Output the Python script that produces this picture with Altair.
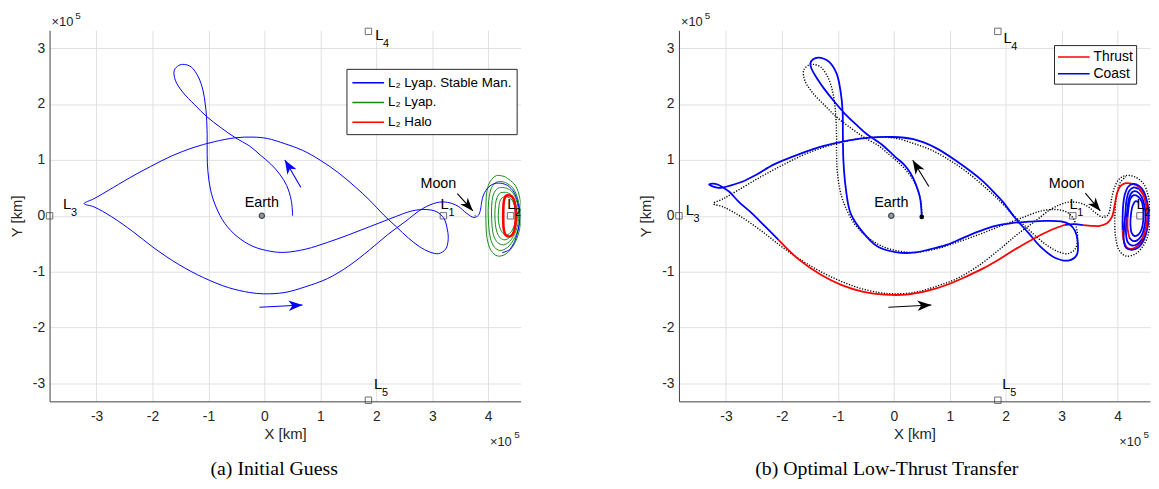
import math
import altair as alt
import pandas as pd

# ---------------- axis ranges / ticks (units of 1e5 km) ----------------
XDOM = [-3.84, 4.58]
YDOM = [-3.32, 3.32]
XTICKS = [-3, -2, -1, 0, 1, 2, 3, 4]
YTICKS = [-3, -2, -1, 0, 1, 2, 3]
W, H = 476, 375

# ---------------- initial guess (L2 Lyapunov stable manifold) ----------------
GUESS = [(0.505, 0.0), (0.48, 0.277), (0.398, 0.542), (0.272, 0.748), (0.114, 0.925),
         (-0.076, 1.09), (-0.265, 1.249), (-0.518, 1.396), (-0.771, 1.572), (-1.036, 1.779),
         (-1.244, 1.985), (-1.466, 2.22), (-1.592, 2.426), (-1.611, 2.603), (-1.529, 2.691),
         (-1.434, 2.709), (-1.308, 2.662), (-1.181, 2.485), (-1.099, 2.25), (-1.055, 1.985),
         (-1.036, 1.779), (-1.023, 1.455), (-1.023, 1.101), (-1.011, 0.807), (-0.96, 0.453),
         (-0.865, 0.159), (-0.708, -0.135), (-0.486, -0.371), (-0.202, -0.548), (0.114, -0.636),
         (0.366, -0.654), (0.745, -0.595), (1.124, -0.477), (1.503, -0.342), (1.883, -0.194),
         (2.262, -0.047), (2.641, 0.088), (2.893, 0.112), (3.083, 0.071), (3.209, -0.047),
         (3.272, -0.253), (3.285, -0.43), (3.241, -0.595), (3.114, -0.677), (2.956, -0.648),
         (2.767, -0.548), (2.577, -0.4), (2.356, -0.194), (2.135, 0.012), (1.883, 0.277),
         (1.63, 0.512), (1.314, 0.777), (0.998, 0.995), (0.682, 1.172), (0.366, 1.29),
         (0.051, 1.384), (-0.202, 1.408), (-0.518, 1.396), (-0.897, 1.325), (-1.276, 1.219),
         (-1.655, 1.072), (-2.034, 0.883), (-2.413, 0.677), (-2.792, 0.453), (-3.045, 0.306),
         (-3.222, 0.218), (-3.045, 0.159), (-2.729, -0.018), (-2.35, -0.283), (-1.971, -0.577),
         (-1.529, -0.872), (-1.087, -1.107), (-0.644, -1.284), (-0.265, -1.372), (-0.013, -1.396),
         (0.366, -1.372), (0.745, -1.266), (1.124, -1.125), (1.503, -0.901), (1.883, -0.607),
         (2.198, -0.342), (2.514, -0.106), (2.83, 0.13), (3.083, 0.236), (3.272, 0.241),
         (3.462, 0.171), (3.62, 0.041), (3.746, -0.029), (3.828, 0.012), (3.872, 0.159)]
MAN_TAIL = [(3.872, 0.159), (3.904, 0.336), (3.98, 0.483), (4.094, 0.571), (4.22, 0.583),
            (4.346, 0.542), (4.46, 0.424), (4.536, 0.218), (4.567, -0.018), (4.536, -0.253),
            (4.473, -0.459), (4.378, -0.607), (4.25, -0.66)]
DOT_TAIL = [(3.872, 0.159), (3.90, 0.34), (3.95, 0.52), (4.03, 0.66), (4.15, 0.72), (4.30, 0.70),
            (4.46, 0.58), (4.55, 0.35), (4.58, 0.05), (4.56, -0.28), (4.47, -0.52), (4.32, -0.68),
            (4.15, -0.72), (4.03, -0.62), (3.97, -0.42), (3.95, -0.15), (3.96, 0.15), (3.99, 0.40),
            (4.05, 0.60), (4.15, 0.70)]

# ---------------- L2 Lyapunov orbits and halo ----------------
LYAP = [
    [(4.30, 0.70), (4.15, 0.72), (4.04, 0.62), (3.98, 0.45), (3.96, 0.2), (3.96, -0.1), (3.98, -0.4),
     (4.05, -0.62), (4.17, -0.72), (4.32, -0.68), (4.47, -0.5), (4.56, -0.25), (4.59, 0.0),
     (4.57, 0.3), (4.48, 0.55), (4.30, 0.70)],
    [(4.30, 0.60), (4.17, 0.61), (4.07, 0.52), (4.02, 0.35), (4.00, 0.1), (4.01, -0.18), (4.04, -0.40),
     (4.11, -0.56), (4.21, -0.62), (4.34, -0.57), (4.47, -0.4), (4.55, -0.18), (4.57, 0.05),
     (4.53, 0.3), (4.44, 0.5), (4.30, 0.60)],
    [(4.31, 0.50), (4.19, 0.50), (4.11, 0.42), (4.07, 0.27), (4.06, 0.05), (4.07, -0.18), (4.10, -0.36),
     (4.17, -0.48), (4.27, -0.52), (4.38, -0.46), (4.48, -0.31), (4.54, -0.1), (4.54, 0.12),
     (4.49, 0.32), (4.41, 0.45), (4.31, 0.50)],
    [(4.32, 0.42), (4.22, 0.41), (4.16, 0.33), (4.13, 0.2), (4.12, 0.02), (4.13, -0.16), (4.16, -0.30),
     (4.22, -0.40), (4.30, -0.43), (4.39, -0.38), (4.47, -0.25), (4.52, -0.07), (4.51, 0.12),
     (4.47, 0.28), (4.41, 0.38), (4.32, 0.42)],
    [(4.33, 0.34), (4.26, 0.33), (4.21, 0.26), (4.19, 0.14), (4.18, 0.0), (4.19, -0.13), (4.22, -0.24),
     (4.27, -0.32), (4.33, -0.34), (4.40, -0.30), (4.46, -0.19), (4.50, -0.04), (4.49, 0.11),
     (4.45, 0.24), (4.40, 0.31), (4.33, 0.34)],
]
HALO = [(4.37, 0.37), (4.31, 0.35), (4.28, 0.25), (4.27, 0.1), (4.27, -0.1), (4.28, -0.25),
        (4.31, -0.34), (4.37, -0.37), (4.43, -0.34), (4.47, -0.25), (4.49, -0.1), (4.49, 0.1),
        (4.47, 0.25), (4.43, 0.34), (4.37, 0.37)]

# ---------------- optimal low-thrust transfer ----------------
SEG_MODE = ["Coast", "Thrust", "Coast", "Thrust", "Coast", "Thrust", "Coast", "Thrust", "Coast"]
SEG_PTS = [
    [(0.50, -0.02), (0.49, 0.15), (0.47, 0.32), (0.40, 0.55), (0.30, 0.76), (0.18, 0.92), (0.03, 1.05),
     (-0.22, 1.28), (-0.48, 1.46), (-0.67, 1.63), (-0.86, 1.81), (-1.06, 2.04), (-1.25, 2.28),
     (-1.38, 2.47), (-1.47, 2.63), (-1.49, 2.73), (-1.44, 2.80), (-1.35, 2.83), (-1.25, 2.81),
     (-1.15, 2.75), (-1.02, 2.54), (-0.95, 2.22), (-0.915, 1.87), (-0.91, 1.46), (-0.90, 0.98),
     (-0.86, 0.51), (-0.77, 0.04), (-0.54, -0.31), (-0.29, -0.55), (0.03, -0.65), (0.35, -0.66),
     (0.64, -0.60), (0.94, -0.52), (1.23, -0.40), (1.52, -0.28), (1.82, -0.18), (2.11, -0.13),
     (2.41, -0.105), (2.70, -0.09), (2.99, -0.10), (3.14, -0.15), (3.24, -0.27), (3.29, -0.48),
     (3.27, -0.70), (3.12, -0.80), (2.88, -0.75), (2.64, -0.57), (2.41, -0.31), (2.17, -0.04),
     (1.95, 0.25), (1.82, 0.39), (1.58, 0.63), (1.12, 0.98), (0.74, 1.22), (0.35, 1.37),
     (-0.03, 1.41), (-0.42, 1.40), (-0.80, 1.35), (-1.25, 1.25), (-1.70, 1.10), (-2.14, 0.92),
     (-2.45, 0.74), (-2.71, 0.61), (-3.00, 0.52), (-3.09, 0.50), (-3.18, 0.51), (-3.27, 0.54),
     (-3.30, 0.56), (-3.24, 0.575), (-3.15, 0.56), (-3.06, 0.51), (-2.94, 0.43), (-2.77, 0.25),
     (-2.53, 0.04), (-2.30, -0.19), (-2.06, -0.43)],
    [(-2.06, -0.43), (-1.70, -0.78), (-1.31, -1.05), (-0.93, -1.24), (-0.54, -1.36), (-0.16, -1.41),
     (0.22, -1.41), (0.61, -1.34), (0.99, -1.22), (1.33, -1.07), (1.58, -0.95), (1.88, -0.78),
     (2.17, -0.60), (2.50, -0.41), (2.82, -0.25), (3.06, -0.16)],
    [(3.06, -0.16), (3.22, -0.15), (3.38, -0.165)],
    [(3.38, -0.165), (3.55, -0.18), (3.68, -0.18), (3.81, -0.135), (3.90, -0.02), (3.95, 0.20),
     (3.99, 0.40), (4.05, 0.53), (4.13, 0.58), (4.22, 0.58), (4.33, 0.55), (4.44, 0.45), (4.52, 0.27),
     (4.56, 0.05), (4.54, -0.18), (4.48, -0.38), (4.38, -0.52), (4.26, -0.59), (4.16, -0.56),
     (4.11, -0.44), (4.09, -0.26)],
    [(4.09, -0.26), (4.09, -0.05), (4.10, 0.18), (4.13, 0.38), (4.19, 0.52), (4.28, 0.57), (4.38, 0.54),
     (4.47, 0.43), (4.53, 0.23), (4.55, 0.0), (4.53, -0.23), (4.47, -0.43), (4.37, -0.57),
     (4.25, -0.61), (4.15, -0.57), (4.11, -0.43), (4.12, -0.2), (4.14, 0.05), (4.16, 0.28),
     (4.21, 0.45), (4.29, 0.51), (4.38, 0.48)],
    [(4.38, 0.48), (4.46, 0.37), (4.51, 0.19), (4.53, -0.03), (4.50, -0.24), (4.44, -0.41)],
    [(4.44, -0.41), (4.35, -0.51), (4.25, -0.53), (4.18, -0.47), (4.15, -0.31), (4.16, -0.08),
     (4.18, 0.15), (4.21, 0.33), (4.27, 0.43), (4.35, 0.43), (4.43, 0.34), (4.48, 0.18), (4.50, -0.02),
     (4.48, -0.20), (4.43, -0.35), (4.35, -0.44), (4.27, -0.45), (4.21, -0.39)],
    [(4.21, -0.39), (4.18, -0.23), (4.18, -0.02)],
    [(4.18, -0.02), (4.20, 0.17), (4.23, 0.31), (4.29, 0.37), (4.36, 0.35), (4.43, 0.26), (4.46, 0.10),
     (4.46, -0.08), (4.43, -0.24), (4.37, -0.34), (4.30, -0.36), (4.25, -0.30), (4.23, -0.15),
     (4.24, 0.03), (4.27, 0.18), (4.32, 0.26), (4.38, 0.24)],
]

# ---------------- libration points, bodies, labels ----------------
LPT_NAMES = ["1", "2", "3", "4", "5"]
LPT_X = [3.20, 4.40, -3.84, 1.86, 1.86]
LPT_Y = [0.0, 0.0, 0.0, 3.30, -3.30]
LBL_LEFT_X = [3.15, 4.34, -3.60, 1.98, 1.96]
LBL_LEFT_Y = [0.34, 0.34, 0.34, 3.36, -2.89]
LBL_RIGHT_X = [3.14, 4.34, -3.72, 1.96, 1.94]
LBL_RIGHT_Y = [0.34, 0.34, 0.22, 3.31, -2.89]
EARTH = (-0.045, 0.0)
MOON = (3.77, 0.0)
EARTH_LBL = (-0.044, 0.236)
MOON_LBL_LEFT = (3.11, 0.56)
MOON_LBL_RIGHT = (3.09, 0.56)

# arrows: (tail_x, tail_y, head_x, head_y)
ARROWS_LEFT = [(0.651, 0.512, 0.366, 1.0), (-0.088, -1.637, 0.682, -1.596)]
MOON_ARROW_LEFT = [(3.449, 0.395, 3.727, 0.088)]
ARROWS_RIGHT = [(0.627, 0.524, 0.339, 0.995), (-0.096, -1.637, 0.672, -1.596)]
MOON_ARROW_RIGHT = [(3.423, 0.406, 3.692, 0.088)]

LEFT_SERIES = ["L\u2082 Lyap. Stable Man.", "L\u2082 Lyap.", "L\u2082 Halo"]
LEFT_COLORS = ["#0000ff", "#138a13", "#ff0000"]
RIGHT_SERIES = ["Thrust", "Coast"]
RIGHT_COLORS = ["#ff0000", "#0000ff"]

FONT = "Liberation Sans"
ARROW_PATH = "M0,0L0.75,2L0,1.45L-0.75,2Z"
LEGEND_LINE = "M-1,0L3,0"


# ---------------- helpers ----------------
def pts_df(pts, **const):
    d = pd.DataFrame({"x": [p[0] for p in pts], "y": [p[1] for p in pts],
                      "i": list(range(len(pts)))})
    for k, v in const.items():
        d[k] = v
    return d


def xenc():
    return alt.X("x:Q", scale=alt.Scale(domain=XDOM, nice=False, zero=False),
                 axis=alt.Axis(values=XTICKS, labelExpr="toString(datum.value)",
                               title="X [km]", labelPadding=8, titlePadding=4))


def yenc():
    return alt.Y("y:Q", scale=alt.Scale(domain=YDOM, nice=False, zero=False),
                 axis=alt.Axis(values=YTICKS, labelExpr="toString(datum.value)",
                               title="Y [km]", labelPadding=5, titlePadding=8))


def arrow_df(arrs):
    rows = []
    for (tx, ty, hx, hy) in arrs:
        ang = math.degrees(math.atan2((hx - tx) * 56.5, (hy - ty) * 56.6)) % 360
        rows.append({"x": tx, "y": ty, "x2": hx, "y2": hy, "hx": hx, "hy": hy, "angle": ang})
    return pd.DataFrame(rows)


def arrow_layers(arrs, color, size):
    d = arrow_df(arrs)
    rule = alt.Chart(d).mark_rule(color=color, strokeWidth=1.1).encode(
        x=xenc(), y=yenc(), x2="x2:Q", y2="y2:Q")
    head = alt.Chart(d).mark_point(shape=ARROW_PATH, filled=True, opacity=1, color=color,
                                   size=size, strokeWidth=0).encode(
        x=alt.X("hx:Q", scale=alt.Scale(domain=XDOM, nice=False, zero=False)),
        y=alt.Y("hy:Q", scale=alt.Scale(domain=YDOM, nice=False, zero=False)),
        angle=alt.Angle("angle:Q", scale=None))
    return [rule, head]


def common_layers(lbl_x, lbl_y, moon_lbl):
    lp = pd.DataFrame({"x": LPT_X, "y": LPT_Y, "n": LPT_NAMES})
    ll = pd.DataFrame({"x": lbl_x, "y": lbl_y, "n": LPT_NAMES})
    squares = alt.Chart(lp).mark_point(shape="square", size=42, color="#333333",
                                       strokeWidth=1, filled=False).encode(x=xenc(), y=yenc())
    l_txt = alt.Chart(ll).mark_text(text="L", align="left", baseline="top", font=FONT,
                                    fontSize=15, color="black").encode(x=xenc(), y=yenc())
    l_sub = alt.Chart(ll).mark_text(align="left", baseline="top", font=FONT, fontSize=11,
                                    dx=8, dy=10, color="black").encode(
        x=xenc(), y=yenc(), text="n:N")
    earth = alt.Chart(pd.DataFrame({"x": [EARTH[0]], "y": [EARTH[1]]})).mark_point(
        shape="circle", size=28, filled=True, fill="#8a9bb0", stroke="#4a4a4a",
        strokeWidth=1.3, opacity=1).encode(x=xenc(), y=yenc())
    moon = alt.Chart(pd.DataFrame({"x": [MOON[0]], "y": [MOON[1]]})).mark_point(
        shape="circle", size=5, filled=True, color="#9a9a9a", opacity=1).encode(x=xenc(), y=yenc())
    names = pd.DataFrame({"x": [EARTH_LBL[0], moon_lbl[0]], "y": [EARTH_LBL[1], moon_lbl[1]],
                          "t": ["Earth", "Moon"]})
    name_txt = alt.Chart(names).mark_text(font=FONT, fontSize=14.5, color="black",
                                          baseline="middle").encode(x=xenc(), y=yenc(), text="t:N")
    corner = pd.DataFrame({"x": [XDOM[0]], "y": [YDOM[1]]})
    corner2 = pd.DataFrame({"x": [XDOM[1]], "y": [YDOM[0]]})
    e1 = alt.Chart(corner).mark_text(text="\u00d710", align="left", baseline="middle", dx=2, dy=-8,
                                     font=FONT, fontSize=13, color="#262626").encode(x=xenc(), y=yenc())
    e2 = alt.Chart(corner).mark_text(text="5", align="left", baseline="middle", dx=26, dy=-14,
                                     font=FONT, fontSize=10, color="#262626").encode(x=xenc(), y=yenc())
    e3 = alt.Chart(corner2).mark_text(text="\u00d710", align="right", baseline="middle", dx=-9, dy=41,
                                      font=FONT, fontSize=13, color="#262626").encode(x=xenc(), y=yenc())
    e4 = alt.Chart(corner2).mark_text(text="5", align="right", baseline="middle", dx=-1, dy=34,
                                      font=FONT, fontSize=10, color="#262626").encode(x=xenc(), y=yenc())
    return [squares, earth, moon, name_txt, l_txt, l_sub, e1, e2, e3, e4]


def legend(lx, ly, row_pad, pad, fs):
    return alt.Legend(title=None, orient="none", legendX=lx, legendY=ly, fillColor="white",
                      strokeColor="#262626", padding=pad, symbolType=LEGEND_LINE, symbolSize=256,
                      symbolStrokeWidth=1.4, labelFont=FONT, labelFontSize=fs, labelColor="black",
                      labelOffset=19, rowPadding=row_pad, labelLimit=300)


# ---------------- left panel ----------------
left_color = alt.Color("series:N", scale=alt.Scale(domain=LEFT_SERIES, range=LEFT_COLORS),
                       legend=legend(300, 39, 4, 5, 13.5))
man_df = pd.concat([pts_df(GUESS), pts_df(MAN_TAIL).assign(i=lambda d: d["i"] + len(GUESS))])
man_df["series"] = LEFT_SERIES[0]
man_df["seg"] = "m"
lyap_df = pd.concat([pts_df(o, series=LEFT_SERIES[1], seg="g%d" % k) for k, o in enumerate(LYAP)])
halo_df = pts_df(HALO, series=LEFT_SERIES[2], seg="h")

left_lines = [
    alt.Chart(lyap_df).mark_line(strokeWidth=1, clip=True, interpolate="catmull-rom").encode(
        x=xenc(), y=yenc(), color=left_color, detail="seg:N", order="i:Q"),
    alt.Chart(man_df).mark_line(strokeWidth=1, clip=True, interpolate="catmull-rom").encode(
        x=xenc(), y=yenc(), color=left_color, detail="seg:N", order="i:Q"),
    alt.Chart(halo_df).mark_line(strokeWidth=2.6, clip=True, interpolate="catmull-rom").encode(
        x=xenc(), y=yenc(), color=left_color, detail="seg:N", order="i:Q"),
]
left = alt.layer(
    *left_lines,
    *arrow_layers(ARROWS_LEFT, "#0000ff", 200),
    *arrow_layers(MOON_ARROW_LEFT, "black", 180),
    *common_layers(LBL_LEFT_X, LBL_LEFT_Y, MOON_LBL_LEFT),
).properties(width=W, height=H,
             title=alt.TitleParams("(a) Initial Guess", orient="bottom", anchor="middle",
                                   offset=10, dx=-11))

# ---------------- right panel ----------------
right_color = alt.Color("mode:N", scale=alt.Scale(domain=RIGHT_SERIES, range=RIGHT_COLORS),
                        legend=legend(379, 15, 1, 3, 14))
dot_df = pd.concat([pts_df(GUESS), pts_df(DOT_TAIL).assign(i=lambda d: d["i"] + len(GUESS))])
traj_df = pd.concat([pts_df(p, mode=m, seg="s%02d" % k)
                     for k, (m, p) in enumerate(zip(SEG_MODE, SEG_PTS))])
start_df = pd.DataFrame({"x": [SEG_PTS[0][0][0]], "y": [SEG_PTS[0][0][1]]})

right = alt.layer(
    alt.Chart(dot_df).mark_line(strokeWidth=1.4, color="black", strokeDash=[1.2, 1.6], clip=True,
                                interpolate="catmull-rom").encode(x=xenc(), y=yenc(), order="i:Q"),
    alt.Chart(traj_df).mark_line(strokeWidth=1.8, clip=True, interpolate="catmull-rom").encode(
        x=xenc(), y=yenc(), color=right_color, detail="seg:N", order="i:Q"),
    alt.Chart(start_df).mark_point(shape="circle", size=22, filled=True, color="black",
                                   opacity=1).encode(x=xenc(), y=yenc()),
    *arrow_layers(ARROWS_RIGHT, "black", 200),
    *arrow_layers(MOON_ARROW_RIGHT, "black", 180),
    *common_layers(LBL_RIGHT_X, LBL_RIGHT_Y, MOON_LBL_RIGHT),
).properties(width=W, height=H,
             title=alt.TitleParams("(b) Optimal Low-Thrust Transfer", orient="bottom",
                                   anchor="middle", offset=10, dx=-28))

chart = alt.hconcat(left, right, spacing=118).resolve_scale(color="independent").properties(
    padding={"left": 1, "top": 1, "right": 0, "bottom": 0}
).configure_view(stroke=None).configure_axis(
    grid=True, gridColor="#e0e0e0", gridWidth=1, domainColor="#404040", domainWidth=1,
    ticks=False, labelFont=FONT, labelFontSize=14, labelColor="#262626",
    titleFont=FONT, titleFontSize=15, titleFontWeight="normal", titleColor="#262626"
).configure_title(font="Liberation Serif", fontSize=20, fontWeight="normal", color="black")

chart.save("out.html", embed_options={"renderer": "svg", "actions": False})
